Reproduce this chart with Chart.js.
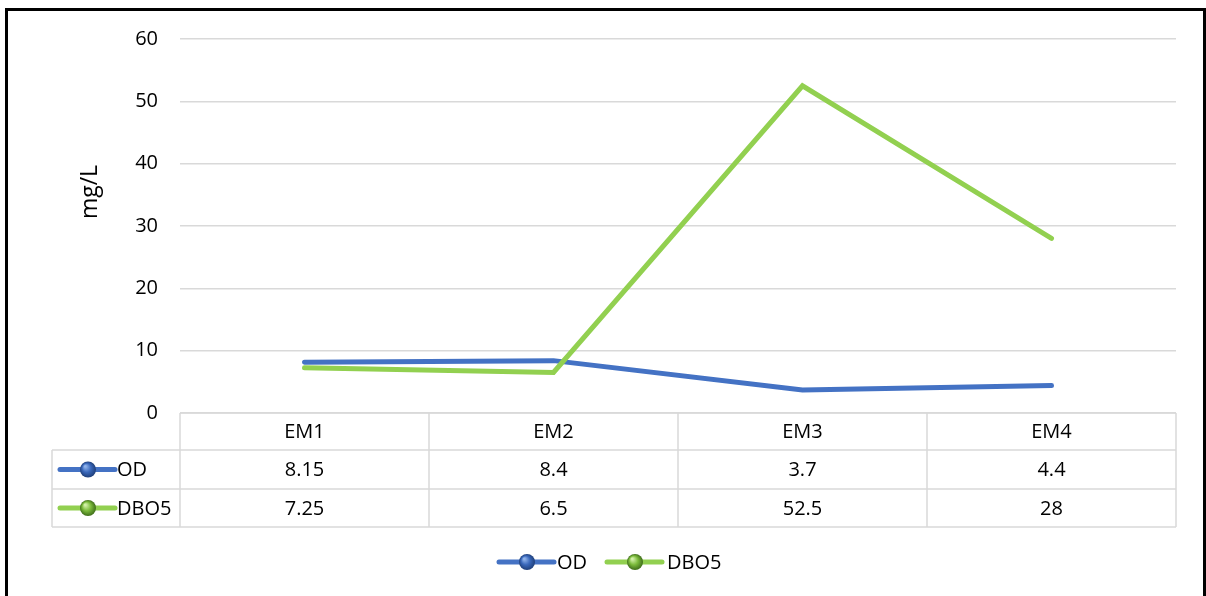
<!DOCTYPE html>
<html>
<head>
<meta charset="utf-8">
<script src="https://cdn.jsdelivr.net/npm/chart.js@4"></script>
<style>
  html, body { margin: 0; padding: 0; background: #fff; }
  #wrap { width: 1206px; height: 596px; }
</style>
</head>
<body>
<div id="wrap"><canvas id="chart" width="1206" height="596"></canvas></div>
<script>
// stations and measured values (mg/L)
const stations = ['EM1', 'EM2', 'EM3', 'EM4'];
const odValues = [8.15, 8.4, 3.7, 4.4];
const dboValues = [7.25, 6.5, 52.5, 28];
const seriesNames = ['OD', 'DBO5'];
const yTicks = [0, 10, 20, 30, 40, 50, 60];

const FONT = '"Open Sans", "Liberation Sans", sans-serif';
const BLUE = '#4472C4';
const GREEN = '#92D050';
const GRID = '#d9d9d9';

// little shaded ball used as series marker
function drawBall(ctx, x, y, r, light, mid, dark) {
    const g = ctx.createRadialGradient(x - r * 0.35, y - r * 0.4, r * 0.1, x, y, r);
    g.addColorStop(0, light);
    g.addColorStop(0.5, mid);
    g.addColorStop(1, dark);
    ctx.fillStyle = g;
    ctx.beginPath();
    ctx.arc(x, y, r, 0, Math.PI * 2);
    ctx.fill();
}

function drawKey(ctx, x, y, i) {
    const color = i === 0 ? BLUE : GREEN;
    ctx.save();
    ctx.strokeStyle = color;
    ctx.lineWidth = 5;
    ctx.lineCap = 'round';
    ctx.beginPath();
    ctx.moveTo(x, y);
    ctx.lineTo(x + 55, y);
    ctx.stroke();
    if (i === 0) drawBall(ctx, x + 28, y, 8, '#8fb2ea', '#3a68bb', '#1f3f7a');
    else drawBall(ctx, x + 28, y, 8, '#d2f0a8', '#7cbb3c', '#3f6e1a');
    ctx.restore();
}

const tablePlugin = {
    id: 'dataTable',
    afterDraw(chart) {
        const ctx = chart.ctx;
        const area = chart.chartArea;
        const xs = chart.scales.x;
        const colW = (area.right - area.left) / stations.length;
        const rows = [area.bottom, 450, 489, 527];
        const labelLeft = 52;
        const series = [odValues, dboValues];

        ctx.save();
        ctx.strokeStyle = GRID;
        ctx.lineWidth = 1.5;
        // horizontal rules
        ctx.beginPath();
        ctx.moveTo(area.left, rows[0]);
        ctx.lineTo(area.right, rows[0]);
        for (let r = 1; r < rows.length; r++) {
            ctx.moveTo(labelLeft, rows[r]);
            ctx.lineTo(area.right, rows[r]);
        }
        // vertical rules
        for (let c = 0; c <= stations.length; c++) {
            const x = area.left + c * colW;
            ctx.moveTo(x, rows[0]);
            ctx.lineTo(x, rows[3]);
        }
        ctx.moveTo(labelLeft, rows[1]);
        ctx.lineTo(labelLeft, rows[3]);
        ctx.stroke();

        ctx.fillStyle = '#000';
        ctx.font = '20px ' + FONT;
        ctx.textAlign = 'center';
        ctx.textBaseline = 'middle';
        stations.forEach((s, i) => {
            const cx = xs.getPixelForValue(i);
            ctx.fillText(s, cx, (rows[0] + rows[1]) / 2 + 1);
            series.forEach((vals, k) => {
                ctx.fillText(String(vals[i]), cx, (rows[k + 1] + rows[k + 2]) / 2 + 1);
            });
        });

        // row headers with series key
        ctx.textAlign = 'left';
        seriesNames.forEach((name, k) => {
            const cy = (rows[k + 1] + rows[k + 2]) / 2;
            drawKey(ctx, 60, cy, k);
            ctx.fillStyle = '#000';
            ctx.fillText(name, 117, cy + 1);
        });

        // legend at the bottom
        const legendY = 562;
        drawKey(ctx, 499, legendY, 0);
        ctx.fillStyle = '#000';
        ctx.fillText(seriesNames[0], 557, legendY + 1);
        drawKey(ctx, 607, legendY, 1);
        ctx.fillStyle = '#000';
        ctx.fillText(seriesNames[1], 667, legendY + 1);

        // y axis title
        ctx.save();
        ctx.translate(90, 192);
        ctx.rotate(-Math.PI / 2);
        ctx.textAlign = 'center';
        ctx.font = '23px ' + FONT;
        ctx.fillText('mg/L', 0, 0);
        ctx.restore();

        // outer frame
        ctx.strokeStyle = '#000';
        ctx.lineWidth = 3;
        ctx.strokeRect(6.5, 9.5, 1198, 600);
        ctx.restore();
    }
};

new Chart(document.getElementById('chart').getContext('2d'), {
    type: 'line',
    data: {
        labels: stations,
        datasets: [{
            label: seriesNames[0],
            data: odValues,
            borderColor: BLUE,
            backgroundColor: BLUE,
            borderWidth: 5,
            borderCapStyle: 'round',
            pointRadius: 0,
            tension: 0,
            order: 1
        }, {
            label: seriesNames[1],
            data: dboValues,
            borderColor: GREEN,
            backgroundColor: GREEN,
            borderWidth: 5,
            borderCapStyle: 'round',
            pointRadius: 0,
            tension: 0,
            order: 0
        }]
    },
    options: {
        responsive: false,
        animation: false,
        layout: {
            padding: { left: 0, top: 39, right: 30, bottom: 183 }
        },
        plugins: {
            legend: { display: false },
            tooltip: { enabled: false }
        },
        scales: {
            x: {
                display: false,
                offset: true
            },
            y: {
                min: 0,
                max: 60,
                afterFit(scale) { scale.width = 180; },
                afterBuildTicks(scale) { scale.ticks = yTicks.map(v => ({ value: v })); },
                border: { display: false },
                grid: { color: GRID, lineWidth: 1.5, drawTicks: false },
                ticks: {
                    color: '#000',
                    padding: 22,
                    font: { family: FONT, size: 20 }
                }
            }
        }
    },
    plugins: [tablePlugin]
});
</script>
</body>
</html>
